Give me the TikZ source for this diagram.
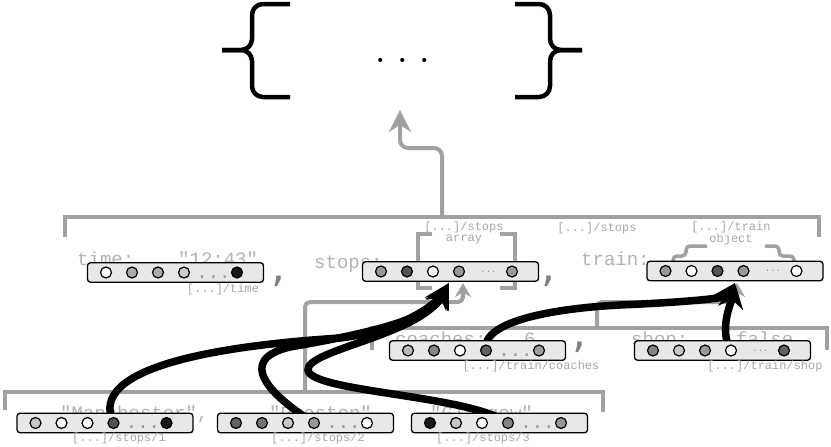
\documentclass[tikz,border=0pt]{standalone}
\usepackage{fontspec}
\usepackage{tikz}
\usetikzlibrary{arrows.meta, positioning, calc}

\newfontfamily\monofont{Liberation Mono}
\newfontfamily\commafont{DejaVu Sans}

\pgfdeclarelayer{back}
\pgfdeclarelayer{mid}
\pgfsetlayers{back,mid,main}

% embedding box: name, centre, five fills, dots style
\newcommand{\embvec}[4]{%
  \node[vecbox] (#1) at (#2) {};
  \foreach \fc [count=\i] in {#3} {
    \pgfmathsetmacro\off{\i<5 ? 26*(\i-1)-69.5 : 61.5}
    \node[cell, fill=\fc, xshift=\off pt] (#1-\i) at (#1) {};
  }
  \node[#4, xshift=38pt] (#1-dots) at (#1) {...};
}

\begin{document}
\begin{tikzpicture}[
    x=1pt, y=-1pt,
    vecbox/.style={
        rectangle, rounded corners=3pt, draw=black, line width=1.3pt,
        fill=black!9, minimum width=176pt, minimum height=19.5pt, inner sep=0pt
    },
    cell/.style={circle, draw=black, line width=1.2pt, minimum size=11pt, inner sep=0pt},
    bigdots/.style={font=\monofont\fontsize{19}{19}\selectfont, text=black!40, inner sep=0pt, yshift=-4.5pt},
    smalldots/.style={font=\monofont\fontsize{9}{9}\selectfont, text=black!45, inner sep=0pt},
    keytext/.style={font=\monofont\fontsize{19}{19}\selectfont, text=black!30, anchor=base west, inner sep=0pt},
    pathlabel/.style={font=\monofont\fontsize{12}{11}\selectfont, text=black!35, align=center, inner sep=0pt},
    sep/.style={font=\commafont\fontsize{44}{44}\selectfont, text=black!50, inner sep=0pt},
    frame/.style={draw=black!37, line width=4pt},
    feed/.style={draw=black!37, line width=4pt, rounded corners=5pt, -{Stealth[length=14pt, width=16pt]}},
    link/.style={draw=black, line width=7.5pt, -{Stealth[length=25pt, width=25pt]}},
    brace/.style={draw=black, line width=4.5pt, rounded corners=11pt}
]
\useasboundingbox (0,0) rectangle (831,447);

% root object
\draw[brace] (290,4) -| (252,50) -- (222,50);
\draw[brace] (290,97) -| (252,50) -- (222,50);
\draw[brace] (515,4) -| (550,50) -- (582,50);
\draw[brace] (515,97) -| (550,50) -- (582,50);
\node[font=\fontsize{50}{50}\selectfont, inner sep=0pt] (rootdots) at (403,60) {.\hspace{9.6pt}.\hspace{9.6pt}.};

\begin{pgfonlayer}{back}
% brackets
\draw[frame] (65,237) |- (819,217) -- (819,237);
\draw[frame] (372,350) |- (827,328) -- (827,350);
\draw[frame] (5,410) |- (603,392) -- (603,412);
\draw[frame] (432,234) -| (418,288) -- (432,288);
\draw[frame] (500,234) -| (515,288) -- (500,288);
\draw[frame, line width=3.5pt, rounded corners=4pt] (673,262) |- (686,256) |- (707,246);
\draw[frame, line width=3.5pt, rounded corners=4pt] (794,262) |- (779,256) |- (765,246);

\coordinate (rootout) at (442,217);
\coordinate (rootin) at (400,110);
\coordinate (stopsout) at (305,392);
\coordinate (stopsin) at (463,283);
\coordinate (trainout) at (597,328);
\coordinate (trainin) at (737,283);
\draw[feed, rounded corners=8pt, -{Stealth[length=22pt, width=22pt]}] (rootout) |- (400,148) -- (rootin);
\draw[feed] (stopsout) |- (463,302) -- (stopsin);
\draw[feed] (trainout) |- (737,302) -- (trainin);

% keys and values
\node[keytext] (k-time) at (77,265) {time:};
\node[keytext] (v-time) at (178,265) {"12:43"};
\node[keytext] (k-stops) at (314,268) {stops:};
\node[keytext] (k-train) at (581,265) {train:};
\node[keytext] (k-coaches) at (395,345) {coaches:};
\node[keytext] (v-coaches) at (524,345) {6};
\node[keytext] (k-shop) at (631,345) {shop:};
\node[keytext] (v-shop) at (736,345) {false};
\node[keytext] (v-man) at (60,419) {"Manchester",};
\node[keytext] (v-pre) at (269,419) {"Preston"};
\node[keytext] (v-gla) at (430,419) {"Glasgow"};
\end{pgfonlayer}

% embeddings
\embvec{time}{175.5,272.5}{white,black!33,black!33,black!20,black!90}{bigdots}
\embvec{stops}{450.5,271.5}{black!40,black!68,white,black!40,black!40}{smalldots}
\embvec{train}{735,271}{black!40,white,black!68,black!40,white}{smalldots}
\embvec{coaches}{477.5,350.5}{black!28,black!48,white,black!62,black!38}{bigdots}
\embvec{shop}{722.5,350.5}{black!48,black!22,black!40,white,black!62}{smalldots}
\embvec{man}{105,423}{black!22,white,white,black!68,black!90}{bigdots}
\embvec{pre}{305.5,423}{black!62,black!55,black!22,black!40,white}{bigdots}
\embvec{gla}{499.5,423}{black!90,black!22,white,black!48,black!40}{bigdots}

\node[sep] (c1) at (278,281) {,};
\node[sep] (c2) at (548,281) {,};
\node[sep] (c3) at (579,347) {,};

% paths
\node[pathlabel] (l-time) at (223,289) {[...]/time};
\node[pathlabel] (l-stops) at (464,233) {[...]/stops\\array};
\node[pathlabel] (l-stops2) at (597,228) {[...]/stops};
\node[pathlabel] (l-train) at (731,233) {[...]/train\\object};
\node[pathlabel] (l-coaches) at (531,366) {[...]/train/coaches};
\node[pathlabel] (l-shop) at (765,366) {[...]/train/shop};
\node[pathlabel] (l-man) at (119,438) {[...]/stops/1};
\node[pathlabel] (l-pre) at (318,438) {[...]/stops/2};
\node[pathlabel] (l-gla) at (483,438) {[...]/stops/3};

\begin{pgfonlayer}{mid}
\coordinate (stopsdst) at (449,283);
\coordinate (traindst) at (735,283);
\draw[link] (man-4.center) .. controls (85,365) and (230,345) .. (340,338)
    .. controls (400,331) and (435,305) .. (stopsdst);
\draw[link] (pre-4.center) .. controls (270,395) and (235,360) .. (290,347)
    .. controls (360,335) and (430,320) .. (stopsdst);
\draw[link] (gla-4.center) .. controls (470,395) and (310,392) .. (308,370)
    .. controls (306,350) and (420,335) .. (stopsdst);
\draw[link] (coaches-4.center) .. controls (480,320) and (560,308) .. (620,305)
    .. controls (690,302) and (725,298) .. (traindst);
\draw[link] (shop-4.center) .. controls (718,330) and (732,300) .. (traindst);
\end{pgfonlayer}

\end{tikzpicture}
\end{document}
